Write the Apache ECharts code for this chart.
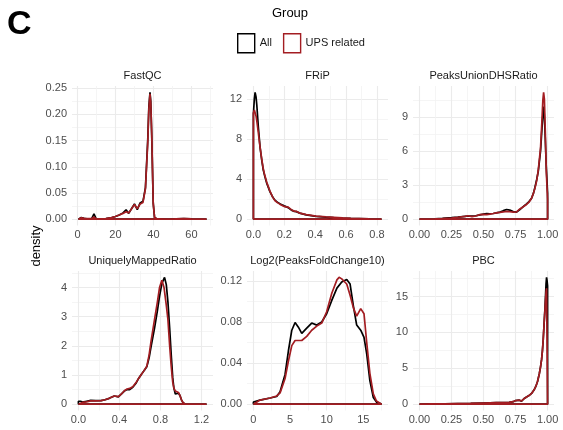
<!DOCTYPE html>
<html>
<head>
<meta charset="utf-8">
<script src="https://cdn.jsdelivr.net/npm/echarts@6/dist/echarts.min.js"></script>
<style>
html, body { margin: 0; padding: 0; background: #fff; }
#chart { width: 563px; height: 430px; }
</style>
</head>
<body>
<div id="chart"></div>
<script>
// panel titles, facet order (row by row)
var panelNames = ['FastQC', 'FRiP', 'PeaksUnionDHSRatio', 'UniquelyMappedRatio', 'Log2(PeaksFoldChange10)', 'PBC'];
var groupNames = ['All', 'UPS related'];

// density curves, [x, density]
var fastqcAll = [[0.5,0.001],[2,0.003],[3.5,0.0015],[5,0.0008],[7.5,0.001],[8.7,0.010],[9.8,0.001],[12,0.0005],[15,0.001],[18,0.003],[20,0.005],[22,0.008],[24,0.012],[25.6,0.018],[27,0.011],[28.5,0.02],[30,0.029],[31.5,0.018],[33,0.031],[34.5,0.034],[35.8,0.06],[37,0.15],[37.6,0.215],[38.2,0.242],[38.6,0.225],[39.1,0.16],[39.9,0.03],[40.6,0.003],[42,0.0005],[48,0.0003],[52,0.0008],[56,0.0012],[60,0.0004],[64,0.0002],[68,0]];
var fastqcUps = [[0.5,0.001],[2,0.0025],[3.5,0.0015],[5,0.001],[7.5,0.001],[8.7,0.004],[9.8,0.001],[12,0.0005],[15,0.001],[18,0.003],[20,0.005],[22,0.008],[24,0.011],[25.6,0.014],[27,0.012],[28.5,0.02],[30,0.028],[31.5,0.02],[33,0.029],[34.5,0.032],[35.8,0.058],[37,0.145],[37.6,0.21],[38.2,0.239],[38.6,0.222],[39.1,0.165],[39.9,0.03],[40.6,0.003],[42,0.0005],[48,0.0003],[52,0.0008],[56,0.001],[60,0.0004],[64,0.0002],[68,0]];

var fripAll = [[0,10.5],[0.006,12.0],[0.011,12.66],[0.017,12.2],[0.022,11.4],[0.032,9.2],[0.043,7.2],[0.054,5.9],[0.064,4.9],[0.075,4.2],[0.086,3.6],[0.107,2.75],[0.125,2.2],[0.139,1.9],[0.155,1.7],[0.171,1.55],[0.19,1.4],[0.203,1.3],[0.225,1.15],[0.246,0.9],[0.265,0.78],[0.278,0.75],[0.3,0.6],[0.342,0.43],[0.406,0.27],[0.47,0.2],[0.52,0.15],[0.577,0.1],[0.63,0.07],[0.684,0.05],[0.75,0.02],[0.83,0]];
var fripUps = [[0,10.6],[0.006,10.9],[0.011,10.8],[0.017,10.3],[0.022,9.8],[0.032,8.6],[0.043,7.2],[0.054,6.0],[0.064,5.0],[0.075,4.3],[0.086,3.7],[0.107,2.8],[0.125,2.2],[0.139,1.85],[0.155,1.65],[0.171,1.5],[0.19,1.35],[0.203,1.25],[0.225,1.2],[0.246,0.95],[0.265,0.8],[0.278,0.78],[0.3,0.6],[0.342,0.45],[0.406,0.3],[0.47,0.22],[0.52,0.18],[0.577,0.12],[0.63,0.08],[0.684,0.06],[0.75,0.03],[0.83,0]];

var pudAll = [[0,0],[0.06,0.01],[0.12,0.03],[0.18,0.07],[0.25,0.13],[0.3,0.18],[0.356,0.25],[0.38,0.28],[0.41,0.26],[0.44,0.3],[0.472,0.38],[0.5,0.45],[0.525,0.5],[0.55,0.48],[0.576,0.5],[0.6,0.55],[0.628,0.62],[0.655,0.75],[0.68,0.85],[0.705,0.8],[0.732,0.68],[0.758,0.62],[0.784,0.85],[0.81,1.1],[0.836,1.35],[0.855,1.55],[0.875,1.85],[0.89,2.3],[0.901,2.8],[0.915,3.5],[0.927,4.2],[0.945,6.0],[0.955,7.8],[0.963,9.2],[0.971,9.94],[0.979,8.0],[0.989,4.8],[1.0,2.3]];
var pudUps = [[0,0],[0.06,0.01],[0.12,0.02],[0.18,0.05],[0.25,0.1],[0.3,0.17],[0.356,0.25],[0.38,0.3],[0.41,0.22],[0.44,0.28],[0.472,0.4],[0.5,0.42],[0.525,0.4],[0.55,0.45],[0.576,0.5],[0.6,0.55],[0.628,0.6],[0.655,0.65],[0.68,0.68],[0.705,0.66],[0.732,0.62],[0.758,0.65],[0.784,0.9],[0.81,1.1],[0.836,1.3],[0.855,1.5],[0.875,1.85],[0.89,2.3],[0.901,2.7],[0.915,3.4],[0.927,4.3],[0.945,6.3],[0.955,8.5],[0.963,10.5],[0.969,11.2],[0.975,10.6],[0.982,7.8],[0.99,4.2],[1.0,1.7]];

var umrAll = [[0,0.1],[0.02,0.1],[0.04,0.07],[0.08,0.1],[0.12,0.13],[0.17,0.12],[0.22,0.12],[0.26,0.15],[0.3,0.2],[0.35,0.28],[0.39,0.25],[0.42,0.35],[0.448,0.45],[0.475,0.5],[0.5,0.5],[0.53,0.58],[0.562,0.72],[0.59,0.9],[0.61,1.0],[0.64,1.15],[0.667,1.28],[0.69,1.6],[0.71,2.0],[0.742,2.6],[0.77,3.2],[0.791,3.7],[0.815,4.15],[0.84,4.35],[0.857,4.1],[0.873,3.5],[0.89,2.6],[0.905,1.7],[0.92,0.9],[0.931,0.55],[0.945,0.35],[0.96,0.33],[0.975,0.38],[0.99,0.3],[1.005,0.15],[1.02,0.05],[1.046,0],[1.1,0],[1.25,0]];
var umrUps = [[0,0.05],[0.04,0.06],[0.08,0.08],[0.12,0.11],[0.17,0.11],[0.22,0.12],[0.26,0.15],[0.3,0.2],[0.35,0.28],[0.39,0.26],[0.42,0.35],[0.448,0.46],[0.475,0.52],[0.5,0.54],[0.53,0.6],[0.562,0.74],[0.59,0.9],[0.61,1.0],[0.64,1.15],[0.667,1.3],[0.69,1.7],[0.71,2.2],[0.742,2.9],[0.77,3.5],[0.791,4.0],[0.814,4.25],[0.835,4.0],[0.857,3.4],[0.873,2.9],[0.89,2.0],[0.905,1.3],[0.92,0.75],[0.931,0.55],[0.945,0.45],[0.96,0.42],[0.975,0.4],[0.99,0.3],[1.005,0.15],[1.02,0.05],[1.046,0],[1.1,0],[1.25,0]];

var log2All = [[0,0.002],[0.91,0.004],[2.28,0.006],[3.18,0.0075],[3.64,0.012],[4.32,0.029],[4.78,0.052],[5.24,0.072],[5.69,0.0795],[6.14,0.075],[6.6,0.069],[7.28,0.074],[7.96,0.079],[8.65,0.077],[9.33,0.08],[10.0,0.088],[10.7,0.101],[11.4,0.113],[12.06,0.119],[12.74,0.1215],[13.2,0.117],[13.64,0.096],[14.1,0.077],[14.65,0.072],[15.1,0.065],[15.47,0.049],[15.9,0.023],[16.37,0.0065],[16.8,0.002],[17.5,0]];
var log2Ups = [[0,0.001],[0.91,0.004],[2.28,0.006],[3.18,0.008],[3.64,0.011],[4.32,0.025],[4.78,0.042],[5.24,0.057],[5.69,0.062],[6.14,0.062],[6.6,0.062],[7.28,0.066],[7.96,0.072],[8.65,0.076],[9.33,0.079],[10.0,0.09],[10.7,0.108],[11.4,0.121],[11.7,0.1235],[12.06,0.122],[12.74,0.117],[13.2,0.106],[13.64,0.094],[14.1,0.0857],[14.65,0.093],[15.1,0.088],[15.47,0.06],[15.9,0.03],[16.37,0.01],[16.8,0.003],[17.5,0]];

var pbcAll = [[0,0.02],[0.1,0.03],[0.2,0.05],[0.3,0.08],[0.4,0.1],[0.5,0.15],[0.6,0.2],[0.65,0.22],[0.7,0.25],[0.732,0.35],[0.75,0.5],[0.763,0.6],[0.78,0.55],[0.797,0.4],[0.815,0.75],[0.836,1.0],[0.855,1.2],[0.875,1.5],[0.895,2.0],[0.909,2.5],[0.922,3.2],[0.935,4.2],[0.945,5.2],[0.953,6.2],[0.96,7.5],[0.966,9.0],[0.972,11],[0.979,13.2],[0.984,15.2],[0.988,16.8],[0.992,17.67],[0.996,17.2],[1.0,16.5]];
var pbcUps = [[0,0.02],[0.1,0.03],[0.2,0.05],[0.3,0.08],[0.4,0.1],[0.5,0.15],[0.6,0.2],[0.65,0.22],[0.7,0.25],[0.732,0.35],[0.75,0.5],[0.763,0.6],[0.78,0.55],[0.797,0.45],[0.815,0.75],[0.836,1.0],[0.855,1.2],[0.875,1.5],[0.895,2.0],[0.909,2.5],[0.922,3.2],[0.935,4.2],[0.945,5.2],[0.953,6.2],[0.96,7.5],[0.966,9.0],[0.972,11],[0.979,13.0],[0.984,14.6],[0.988,15.6],[0.992,16.15],[0.996,16.1],[1.0,16.0]];

// axis breaks and their labels
var xBreaks = [[0,20,40,60],[0,0.2,0.4,0.6,0.8],[0,0.25,0.5,0.75,1],[0,0.4,0.8,1.2],[0,5,10,15],[0,0.25,0.5,0.75,1]];
var xLabels = [['0','20','40','60'],['0.0','0.2','0.4','0.6','0.8'],['0.00','0.25','0.50','0.75','1.00'],['0.0','0.4','0.8','1.2'],['0','5','10','15'],['0.00','0.25','0.50','0.75','1.00']];
var xMinor = [[-10,10,30,50,70],[-0.1,0.1,0.3,0.5,0.7,0.9],[-0.125,0.125,0.375,0.625,0.875,1.125],[-0.2,0.2,0.6,1.0,1.4],[-2.5,2.5,7.5,12.5,17.5],[-0.125,0.125,0.375,0.625,0.875,1.125]];
var yBreaks = [[0,0.05,0.1,0.15,0.2,0.25],[0,4,8,12],[0,3,6,9],[0,1,2,3,4],[0,0.04,0.08,0.12],[0,5,10,15]];
var yLabels = [['0.00','0.05','0.10','0.15','0.20','0.25'],['0','4','8','12'],['0','3','6','9'],['0','1','2','3','4'],['0.00','0.04','0.08','0.12'],['0','5','10','15']];
var yMinor = [[0.025,0.075,0.125,0.175,0.225],[2,6,10],[1.5,4.5,7.5,10.5],[0.5,1.5,2.5,3.5,4.5],[0.02,0.06,0.1],[2.5,7.5,12.5,17.5]];

var curves = [[fastqcAll, fastqcUps],[fripAll, fripUps],[pudAll, pudUps],[umrAll, umrUps],[log2All, log2Ups],[pbcAll, pbcUps]];

var lineColors = ['#000000', '#a31d22'];
var FONT = 'Liberation Sans, Arial, Helvetica, sans-serif';
var colLeft = [72, 247, 413], colWidth = 141;
var rowTop = [86, 271], rowHeight = 139.5;

// geom_density outline: baseline -> curve -> baseline -> back
function closed(d) {
    var first = d[0][0], last = d[d.length - 1][0];
    return [[first, 0]].concat(d, [[last, 0], [first, 0]]);
}

function expanded(lo, hi) {
    var pad = (hi - lo) * 0.05;
    return [lo - pad, hi + pad];
}

function labelFor(breaks, labels) {
    return function(v) {
        for(var i = 0; i < breaks.length; i++) {
            if(Math.abs(breaks[i] - v) < 1e-9) return labels[i];
        }
        return '';
    };
}

var grids = [], xAxes = [], yAxes = [], series = [], graphics = [];

for(var p = 0; p < 6; p++) {
    var col = p % 3, row = Math.floor(p / 3);
    grids.push({ left: colLeft[col], top: rowTop[row], width: colWidth, height: rowHeight, outerBoundsMode: 'none', containLabel: false });

    var all = curves[p][0].concat(curves[p][1]);
    var xs = all.map(function(d) { return d[0]; }), ys = all.map(function(d) { return d[1]; });
    var xr = expanded(Math.min.apply(null, xs), Math.max.apply(null, xs));
    var yr = expanded(0, Math.max.apply(null, ys));

    // major axes (labels + major grid)
    xAxes.push({
        type: 'value', gridIndex: p, min: xr[0], max: xr[1], position: 'bottom',
        axisLine: { show: false }, axisTick: { show: false, customValues: xBreaks[p] },
        axisLabel: { customValues: xBreaks[p], formatter: labelFor(xBreaks[p], xLabels[p]), color: '#4d4d4d', fontSize: 11, fontFamily: FONT, margin: 4 },
        splitLine: { show: true, lineStyle: { color: '#ebebeb', width: 1.1 } }
    });
    // minor grid
    xAxes.push({
        type: 'value', gridIndex: p, min: xr[0], max: xr[1], position: 'bottom',
        axisLine: { show: false }, axisTick: { show: false, customValues: xMinor[p] },
        axisLabel: { show: false, customValues: xMinor[p] },
        splitLine: { show: true, lineStyle: { color: '#f2f2f2', width: 0.8 } }
    });
    yAxes.push({
        type: 'value', gridIndex: p, min: yr[0], max: yr[1], position: 'left',
        axisLine: { show: false }, axisTick: { show: false, customValues: yBreaks[p] },
        axisLabel: { customValues: yBreaks[p], formatter: labelFor(yBreaks[p], yLabels[p]), color: '#4d4d4d', fontSize: 11, fontFamily: FONT, margin: 5 },
        splitLine: { show: true, lineStyle: { color: '#ebebeb', width: 1.1 } }
    });
    yAxes.push({
        type: 'value', gridIndex: p, min: yr[0], max: yr[1], position: 'left',
        axisLine: { show: false }, axisTick: { show: false, customValues: yMinor[p] },
        axisLabel: { show: false, customValues: yMinor[p] },
        splitLine: { show: true, lineStyle: { color: '#f2f2f2', width: 0.8 } }
    });

    for(var g = 0; g < 2; g++) {
        series.push({
            name: groupNames[g], type: 'line', xAxisIndex: p * 2, yAxisIndex: p * 2,
            data: closed(curves[p][g]), showSymbol: false, symbol: 'none', smooth: false,
            lineStyle: { color: lineColors[g], width: 1.7 }, itemStyle: { color: lineColors[g] },
            z: 3 + g, silent: true
        });
    }

    // facet strip title
    graphics.push({
        type: 'text', x: colLeft[col] + colWidth / 2, y: rowTop[row] - 10,
        style: { text: panelNames[p], font: '11px ' + FONT, fill: '#1a1a1a', align: 'center', verticalAlign: 'middle' }
    });
}

graphics.push({ type: 'text', x: 7, y: 25, style: { text: 'C', font: 'bold 34px ' + FONT, fill: '#000', align: 'left', verticalAlign: 'middle' } });
graphics.push({ type: 'text', x: 290, y: 13, style: { text: 'Group', font: '13px ' + FONT, fill: '#000', align: 'center', verticalAlign: 'middle' } });
graphics.push({ type: 'text', x: 36, y: 246, rotation: Math.PI / 2, style: { text: 'density', font: '13px ' + FONT, fill: '#000', align: 'center', verticalAlign: 'middle' } });

var chart = echarts.init(document.getElementById('chart'));
chart.setOption({
    animation: false,
    backgroundColor: '#fff',
    grid: grids,
    xAxis: xAxes,
    yAxis: yAxes,
    legend: {
        left: 232, top: 28, orient: 'horizontal', itemWidth: 17, itemHeight: 19, itemGap: 11,
        textStyle: { fontSize: 11, color: '#1a1a1a', fontFamily: FONT },
        selectedMode: false,
        data: [
            { name: 'All', icon: 'rect', itemStyle: { color: '#fff', borderColor: lineColors[0], borderWidth: 1.4 } },
            { name: 'UPS related', icon: 'rect', itemStyle: { color: '#fff', borderColor: lineColors[1], borderWidth: 1.4 } }
        ]
    },
    graphic: graphics,
    series: series
});
</script>
</body>
</html>
